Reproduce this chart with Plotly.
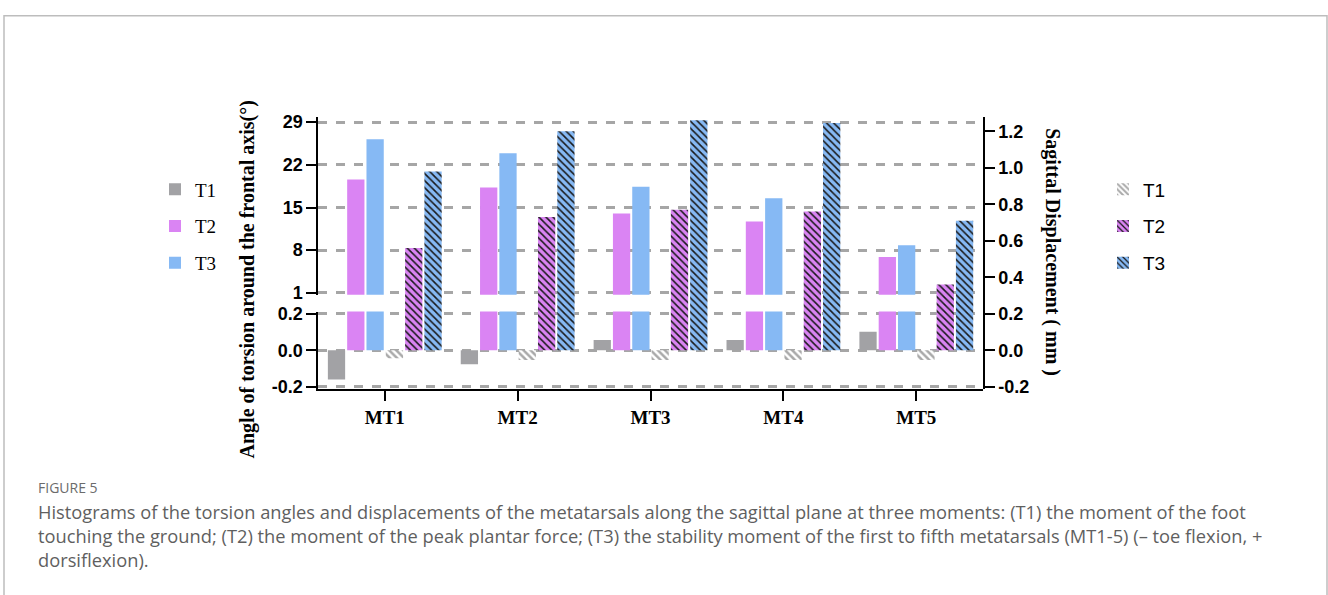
import plotly.graph_objects as go

# ---- data -------------------------------------------------------------
categories = ["MT1", "MT2", "MT3", "MT4", "MT5"]
series_names = ["T1", "T2", "T3"]

# torsion angle around the frontal axis (deg), left (broken) axis
angle_t1 = [-0.16, -0.077, 0.055, 0.055, 0.10]
angle_t2 = [19.6, 18.3, 14.0, 12.7, 6.9]
angle_t3 = [26.2, 23.9, 18.4, 16.5, 8.8]

# sagittal displacement (mm), right axis
disp_t1 = [-0.044, -0.053, -0.053, -0.053, -0.053]
disp_t2 = [0.56, 0.73, 0.77, 0.76, 0.36]
disp_t3 = [0.98, 1.20, 1.26, 1.245, 0.71]

# axis ticks
left_low_ticks = [-0.2, 0.0, 0.2]
left_low_text = ["-0.2", "0.0", "0.2"]
left_high_ticks = [1, 8, 15, 22, 29]
left_high_text = ["1", "8", "15", "22", "29"]
right_ticks = [-0.2, 0.0, 0.2, 0.4, 0.6, 0.8, 1.0, 1.2]
right_text = ["-0.2", "0.0", "0.2", "0.4", "0.6", "0.8", "1.0", "1.2"]

caption_label = "FIGURE 5"
caption_lines = [
    "Histograms of the torsion angles and displacements of the metatarsals along the sagittal plane at three moments: (T1) the moment of the foot",
    "touching the ground; (T2) the moment of the peak plantar force; (T3) the stability moment of the first to fifth metatarsals (MT1-5) (\u2013 toe flexion, +",
    "dorsiflexion).",
]

# ---- styling ----------------------------------------------------------
W, H = 1328, 595
GRAY, PINK, BLUE = "#a2a2a5", "#da84f3", "#86b9f4"
HATCH_GRAY = "#a9a9a9"
SERIF = "Liberation Serif, Times New Roman, serif"
SANS = "Liberation Sans, Arial, sans-serif"
CAPTION_FONT = "Open Sans, sans-serif"

BAR_W = 0.13
SLOT = 0.1453
FIRST = -0.428

fig = go.Figure()

angle_series = [angle_t1, angle_t2, angle_t3]
disp_series = [disp_t1, disp_t2, disp_t3]
solid_colors = [GRAY, PINK, BLUE]

# solid bars: drawn on both halves of the broken left axis
for i, (name, vals, col) in enumerate(zip(series_names, angle_series, solid_colors)):
    for yax, show in (("y", False), ("y2", True)):
        fig.add_trace(go.Bar(
            x=categories, y=vals, name=name, yaxis=yax, xaxis="x",
            marker=dict(color=col, line=dict(width=0)),
            width=BAR_W, offset=FIRST + i * SLOT,
            legend="legend", legendgroup="L" + name, showlegend=show,
            hoverinfo="skip",
        ))

# hatched bars on the right axis
hatch_bg = ["white", PINK, BLUE]
hatch_fg = [HATCH_GRAY, "#1a1a1a", "#1a1a1a"]
hatch_sol = [0.5, 0.32, 0.32]
for i, (name, vals) in enumerate(zip(series_names, disp_series)):
    fig.add_trace(go.Bar(
        x=categories, y=vals, name=name, yaxis="y3", xaxis="x",
        marker=dict(
            color=hatch_bg[i], line=dict(width=0),
            pattern=dict(shape="\\", fgcolor=hatch_fg[i], bgcolor=hatch_bg[i],
                         size=5, solidity=hatch_sol[i], fillmode="replace"),
        ),
        width=BAR_W, offset=FIRST + (3 + i) * SLOT,
        legend="legend2", legendgroup="R" + name,
        hoverinfo="skip",
    ))

axis_common = dict(
    showline=True, linecolor="black", linewidth=2,
    ticks="outside", ticklen=10, tickwidth=2, tickcolor="black",
    tickfont=dict(family=SANS, size=18, color="black", weight="bold"),
    zeroline=False, tickmode="array",
)
grid_common = dict(showgrid=True, gridcolor="#a6a6a6", gridwidth=2.5, griddash="dash")

x0_dom, x1_dom = 318.3 / W, 982.7 / W
fig.update_layout(
    width=W, height=H,
    margin=dict(l=0, r=0, t=0, b=0),
    paper_bgcolor="white", plot_bgcolor="rgba(0,0,0,0)",
    barmode="overlay",
    xaxis=dict(
        domain=[x0_dom, x1_dom], anchor="y", range=[-0.5, 4.5],
        showline=True, linecolor="black", linewidth=2,
        ticks="outside", ticklen=10, tickwidth=2, tickcolor="black",
        tickfont=dict(family=SERIF, size=19, color="black", weight="bold"),
        showgrid=False, zeroline=False,
    ),
    yaxis=dict(
        domain=[(H - 391.7) / H, (H - 312) / H], anchor="x",
        range=[-0.2128, 0.2106],
        tickvals=left_low_ticks, ticktext=left_low_text,
        **axis_common, **grid_common,
    ),
    yaxis2=dict(
        domain=[(H - 294.7) / H, (H - 111.7) / H], anchor="x",
        range=[0.681, 29.9],
        tickvals=left_high_ticks, ticktext=left_high_text,
        **axis_common, **grid_common,
    ),
    yaxis3=dict(
        domain=[(H - 391.7) / H, (H - 111.7) / H], anchor="x", side="right",
        range=[-0.2128, 1.28],
        tickvals=right_ticks, ticktext=right_text,
        showgrid=False, **axis_common,
    ),
    legend=dict(
        x=155 / W, y=(H - 167) / H, xanchor="left", yanchor="top",
        font=dict(family=SERIF, size=19, color="black"),
        traceorder="grouped", tracegroupgap=9, bgcolor="rgba(0,0,0,0)",
    ),
    legend2=dict(
        x=1103 / W, y=(H - 167) / H, xanchor="left", yanchor="top",
        font=dict(family=SANS, size=19, color="black"),
        traceorder="grouped", tracegroupgap=9, bgcolor="rgba(0,0,0,0)",
    ),
)

annotations = [
    dict(text="Angle of torsion around the frontal axis(\u00b0)", textangle=-90,
         x=247 / W, y=(H - 279) / H, xref="paper", yref="paper",
         showarrow=False, xanchor="center", yanchor="middle",
         font=dict(family=SERIF, size=20, color="black", weight="bold")),
    dict(text="Sagittal Displacement ( mm )", textangle=90,
         x=1053 / W, y=(H - 251) / H, xref="paper", yref="paper",
         showarrow=False, xanchor="center", yanchor="middle",
         font=dict(family=SERIF, size=20, color="black", weight="bold")),
    dict(text=caption_label, x=36 / W, y=(H - 493) / H, xref="paper", yref="paper",
         showarrow=False, xanchor="left", yanchor="middle",
         font=dict(family=CAPTION_FONT, size=14, color="#6b6b6b")),
    dict(text="<br>".join(caption_lines), x=36 / W, y=(H - 502) / H,
         xref="paper", yref="paper", showarrow=False,
         xanchor="left", yanchor="top", align="left",
         font=dict(family=CAPTION_FONT, size=18.3, color="#5f5f5f")),
]
fig.update_layout(annotations=annotations)

# outer frame around the figure panel
fig.add_shape(type="rect", xref="paper", yref="paper",
              x0=4 / W, x1=1327 / W, y0=-0.05, y1=(H - 8) / H,
              line=dict(color="#bdbdbd", width=1.5), fillcolor="rgba(0,0,0,0)",
              layer="below")

fig.write_html("out.html")
